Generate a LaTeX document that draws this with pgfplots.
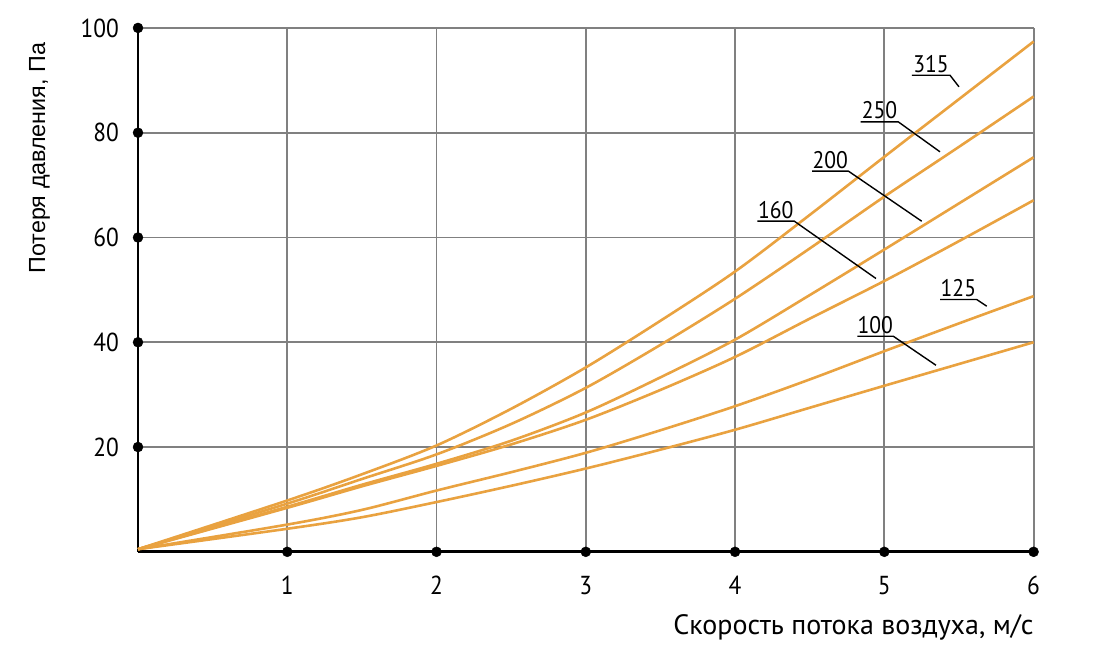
\documentclass[border=0pt]{standalone}
\usepackage{fontspec}
\setmainfont{PT Sans}
\newfontfamily\din[FakeStretch=0.9]{PT Sans}
\newfontfamily\arialf{Liberation Sans}
\usepackage{pgfplots}
\pgfplotsset{compat=1.18}
\definecolor{curve}{RGB}{233,162,64}
\definecolor{gridc}{RGB}{128,128,128}
\newcommand{\lbl}{\din\fontsize{24}{24}\selectfont}
\begin{document}
\begin{tikzpicture}
\begin{axis}[
  scale only axis, width=895.6pt, height=523.9pt,
  xmin=0, xmax=6, ymin=0, ymax=100,
  axis lines=left,
  axis line style={-, line width=2.8pt, black},
  xtick={1,2,3,4,5,6}, ytick={20,40,60,80,100},
  major tick length=0pt,
  grid=major,
  grid style={gridc, line width=1.8pt},
  tick label style={font=\din\fontsize{26}{26}\selectfont, inner sep=0pt},
  /pgf/number format/assume math mode=true,
  yticklabel style={anchor=east, xshift=-19pt},
  xticklabel style={anchor=north, yshift=-24pt},
  clip=false,
]
\addplot[curve, line width=2.6pt, smooth] coordinates {(0,0.5)(1,9.8)(1.5,14.8)(2,20.3)(2.5,27.3)(3,35.2)(3.5,44.1)(4,53.5)(4.5,64.3)(5,75.4)(5.5,86.4)(6,97.4)};
\addplot[curve, line width=2.6pt, smooth] coordinates {(0,0.5)(1,9.2)(1.5,13.9)(2,18.6)(2.5,24.4)(3,31.3)(3.5,39.5)(4,48.3)(4.5,57.9)(5,67.8)(5.5,77.3)(6,86.9)};
\addplot[curve, line width=2.6pt, smooth] coordinates {(0,0.5)(1,8.6)(1.5,12.8)(2,16.8)(2.5,21.2)(3,26.6)(3.5,33.3)(4,40.5)(4.5,49.0)(5,57.7)(5.5,66.5)(6,75.3)};
\addplot[curve, line width=2.6pt, smooth] coordinates {(0,0.5)(1,8.4)(1.5,12.5)(2,16.4)(2.5,20.5)(3,25.2)(3.5,30.9)(4,37.2)(4.5,44.5)(5,51.7)(5.5,59.3)(6,67.1)};
\addplot[curve, line width=2.6pt, smooth] coordinates {(0,0.5)(1,5.2)(1.5,8.0)(2,11.7)(2.5,15.2)(3,18.9)(3.5,23.2)(4,27.8)(4.5,32.9)(5,38.3)(5.5,43.6)(6,48.8)};
\addplot[curve, line width=2.6pt, smooth] coordinates {(0,0.5)(1,4.4)(1.5,6.6)(2,9.5)(2.5,12.6)(3,15.9)(3.5,19.5)(4,23.3)(4.5,27.5)(5,31.7)(5.5,35.85)(6,40.0)};
\addplot[only marks, mark=*, mark size=5pt, black] coordinates {(1,0)(2,0)(3,0)(4,0)(5,0)(6,0)(0,20)(0,40)(0,60)(0,80)(0,100)};
% curve labels
\draw[black, line width=1.4pt] (axis cs:5.185,90.97) -- (axis cs:5.44,90.97) -- (axis cs:5.50,88.76);
\node[anchor=south, inner sep=2.5pt, font=\lbl] at (axis cs:5.3125,90.97) {315};
\draw[black, line width=1.4pt] (axis cs:4.842,82.08) -- (axis cs:5.093,82.08) -- (axis cs:5.373,76.35);
\node[anchor=south, inner sep=2.5pt, font=\lbl] at (axis cs:4.9675,82.08) {250};
\draw[black, line width=1.4pt] (axis cs:4.517,72.67) -- (axis cs:4.759,72.67) -- (axis cs:5.250,63.11);
\node[anchor=south, inner sep=2.5pt, font=\lbl] at (axis cs:4.638,72.67) {200};
\draw[black, line width=1.4pt] (axis cs:4.149,63.11) -- (axis cs:4.397,63.11) -- (axis cs:4.944,52.17);
\node[anchor=south, inner sep=2.5pt, font=\lbl] at (axis cs:4.273,63.11) {160};
\draw[black, line width=1.4pt] (axis cs:5.373,48.16) -- (axis cs:5.619,48.16) -- (axis cs:5.686,46.88);
\node[anchor=south, inner sep=2.5pt, font=\lbl] at (axis cs:5.496,48.16) {125};
\draw[black, line width=1.4pt] (axis cs:4.819,41.15) -- (axis cs:5.060,41.15) -- (axis cs:5.346,35.61);
\node[anchor=south, inner sep=2.5pt, font=\lbl] at (axis cs:4.9395,41.15) {100};
% axis titles
\node[anchor=base east, inner sep=0pt, font=\fontsize{28}{28}\selectfont] at (axis cs:6,-15.78) {Скорость потока воздуха, м/с};
\node[anchor=base, rotate=90, inner sep=0pt, font=\arialf\fontsize{23.3}{23.3}\selectfont] at (axis cs:-0.623,75.15) {Потеря давления, Па};
\coordinate (BL) at (axis cs:-0.9245,-21.13);
\coordinate (TR) at (axis cs:6.465,105.33);
\end{axis}
\pgfresetboundingbox
\path[use as bounding box] (BL) rectangle (TR);
\end{tikzpicture}
\end{document}
